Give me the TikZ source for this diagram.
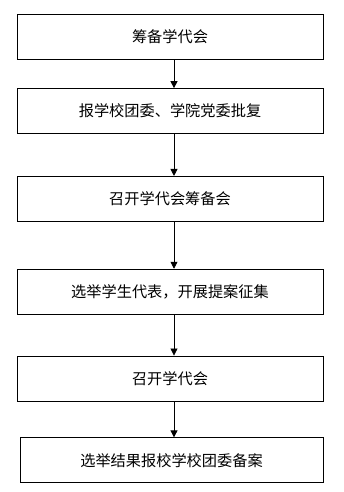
\documentclass[tikz,border=0pt]{standalone}
\usepackage{fontspec}
\newfontfamily\cjk{Noto Sans CJK SC}
\usepackage{tikz}
\usetikzlibrary{
  arrows.meta,
  positioning
}
\tikzset{
  %% 流程框
  stepbox/.style = {
    rectangle, draw = black, line width = 0.8pt,
    minimum width = 306pt, minimum height = 45pt,
    inner sep = 0pt, align = center,
    font = \cjk\fontsize{15.2}{18}\selectfont
  },
  %% 箭头
  arr/.style = {-{Triangle[width=7pt,length=7pt]}, line width = 0.8pt, color = black},
}
\begin{document}
\begin{tikzpicture}

  \useasboundingbox (0,0) rectangle (344pt,-492pt);

  %% 流程节点
  \node[stepbox] (b1) at (170pt,-36.75pt) {筹备学代会};
  \node[stepbox, below=28.5pt of b1] (b2) {报学校团委、学院党委批复};
  \node[stepbox, below=42pt of b2]   (b3) {召开学代会筹备会};
  \node[stepbox, below=47pt of b3]   (b4) {选举学生代表，开展提案征集};
  \node[stepbox, below=41pt of b4]   (b5) {召开学代会};
  \node[stepbox, minimum width=303pt, below=36pt of b5, xshift=1.5pt] (b6) {选举结果报校学校团委备案};

  %% 箭头
  \draw[arr] ([xshift=4pt]b1.south) -- ([xshift=4pt]b2.north);
  \draw[arr] ([xshift=4pt]b2.south) -- ([xshift=4pt]b3.north);
  \draw[arr] ([xshift=4pt]b3.south) -- ([xshift=4pt]b4.north);
  \draw[arr] ([xshift=4pt]b4.south) -- ([xshift=4pt]b5.north);
  \draw[arr] ([xshift=4pt]b5.south) -- ([xshift=2.5pt]b6.north);

\end{tikzpicture}
\end{document}
